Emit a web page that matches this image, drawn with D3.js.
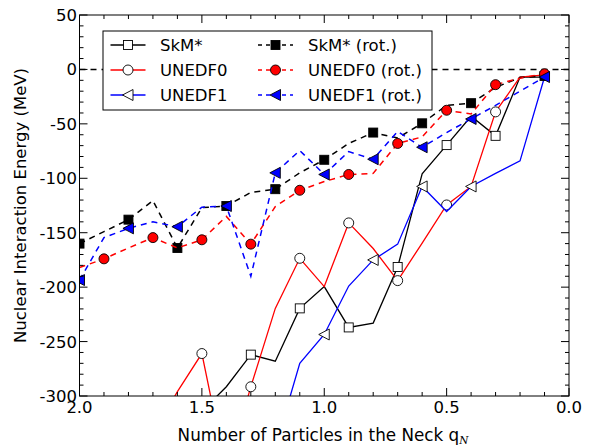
<!DOCTYPE html>
<meta charset="utf-8">
<style>
body { margin: 0; background: #fff; }
text { font-family: "DejaVu Sans"; fill: #000; }
</style>
<body>
<svg id="chart" width="592" height="447"></svg>
<script src="https://d3js.org/d3.v7.min.js"></script>
<script>

// number of particles in the neck, one value per curve point
var qN = [2.0, 1.9, 1.8, 1.7, 1.6, 1.5, 1.4, 1.3, 1.2, 1.1, 1.0, 0.9, 0.8, 0.7, 0.6, 0.5, 0.4, 0.3, 0.2, 0.1];

// interaction energies (MeV), null = not computed
var skmStar     = [null, null, null, null, null, -314, -291.5, -262, -268, -219.5, -199.5, -237, -233, -181.5, -96, -69.5, -43, -61, -7, -7];
var unedf0      = [null, null, null, -335, -296, -261, -370, -291.5, -219.5, -173.5, -199.5, -141, -164.5, -194, -159.5, -124.5, -107.5, -39, -7, -5];
var unedf1      = [null, null, null, null, null, null, null, null, -347, -270, -243.5, -199, -175, -160.5, -107.5, -130.5, -107.5, -95.5, -84, -7];
var skmStarRot  = [-160, -149, -138, -120.5, -164, -127, -125.5, -113, -110, -95, -83, -68, -58, -63, -49.5, -33, -31, -16.5, -7.5, -6];
var unedf0Rot   = [-182, -174, -164, -154.5, -164, -156.5, -135, -160.5, -126, -111, -103, -96.5, -95.5, -68, -62, -37.5, -41, -14, -8, -4];
var unedf1Rot   = [-193.5, -154.5, -146, -140, -144.5, -126.5, -125.5, -190, -95, -74.5, -96.5, -75.5, -82.5, -57, -71.5, -58, -45.5, -33, -20, -7];

// which points carry a marker
var skmStarMarks    = [7, 9, 11, 13, 15, 17];
var unedf0Marks     = [5, 7, 9, 11, 13, 15, 17];
var unedf1Marks     = [10, 12, 14, 16];
var skmStarRotMarks = [0, 2, 4, 6, 8, 10, 12, 14, 16, 19];
var unedf0RotMarks  = [1, 3, 5, 7, 9, 11, 13, 15, 17, 19];
var unedf1RotMarks  = [0, 2, 4, 6, 8, 10, 12, 14, 16, 19];

var xTicks = [2.0, 1.5, 1.0, 0.5, 0.0];
var yTicks = [50, 0, -50, -100, -150, -200, -250, -300];

var series = [
  {name: "SkM*",          y: skmStar,    marks: skmStarMarks,    color: "#000", dash: null, shape: "square",   fill: "#fff"},
  {name: "UNEDF0",        y: unedf0,     marks: unedf0Marks,     color: "#f00", dash: null, shape: "circle",   fill: "#fff"},
  {name: "UNEDF1",        y: unedf1,     marks: unedf1Marks,     color: "#00f", dash: null, shape: "triangle", fill: "#fff"},
  {name: "SkM* (rot.)",   y: skmStarRot, marks: skmStarRotMarks, color: "#000", dash: "6,5", shape: "square",   fill: "#000"},
  {name: "UNEDF0 (rot.)", y: unedf0Rot,  marks: unedf0RotMarks,  color: "#f00", dash: "6,5", shape: "circle",   fill: "#f00"},
  {name: "UNEDF1 (rot.)", y: unedf1Rot,  marks: unedf1RotMarks,  color: "#00f", dash: "6,5", shape: "triangle", fill: "#00f"}
];

var svg = d3.select("#chart"),
    pLeft = 79.5, pRight = 569, pTop = 15, pBottom = 396;

var x = d3.scaleLinear().domain([2.0, 0.0]).range([pLeft, pRight]);
var y = d3.scaleLinear().domain([-300, 50]).range([pBottom, pTop]);

svg.append("defs").append("clipPath").attr("id", "plotclip")
  .append("rect")
    .attr("x", pLeft).attr("y", pTop)
    .attr("width", pRight - pLeft).attr("height", pBottom - pTop);

var plot = svg.append("g").attr("clip-path", "url(#plotclip)");

// zero reference line
plot.append("line")
    .attr("x1", x(2.0)).attr("x2", x(0.0))
    .attr("y1", y(0)).attr("y2", y(0))
    .attr("stroke", "#000")
    .attr("stroke-width", 1.5)
    .attr("stroke-dasharray", "6,5");

function marker(sel, shape, fill) {
  var m;
  if (shape == "square") {
    m = sel.append("rect").attr("x", -4.5).attr("y", -4.5).attr("width", 9).attr("height", 9);
  } else if (shape == "circle") {
    m = sel.append("circle").attr("r", 5);
  } else {
    m = sel.append("path").attr("d", "M-5.5,0L5,-5.5L5,5.5Z");
  }
  m.attr("fill", fill)
   .attr("stroke", "#000")
   .attr("stroke-width", 0.9);
}

var line = d3.line()
    .defined(function(d) { return d[1] !== null; })
    .x(function(d) { return x(d[0]); })
    .y(function(d) { return y(d[1]); });

series.forEach(function(s) {
  var pts = qN.map(function(q, i) { return [q, s.y[i]]; });
  plot.append("path")
      .datum(pts)
      .attr("fill", "none")
      .attr("stroke", s.color)
      .attr("stroke-width", s.dash ? 1.5 : 1.3)
      .attr("stroke-dasharray", s.dash)
      .attr("d", line);
  s.marks.forEach(function(i) {
    var g = plot.append("g")
        .attr("transform", "translate(" + x(qN[i]) + "," + y(s.y[i]) + ")");
    marker(g, s.shape, s.fill);
  });
});

// axes: ticks point inward on all four sides
var frame = svg.append("g");
frame.append("rect")
    .attr("x", pLeft).attr("y", pTop)
    .attr("width", pRight - pLeft).attr("height", pBottom - pTop)
    .attr("fill", "none").attr("stroke", "#000").attr("stroke-width", 1);

var xMinor = d3.range(0, 21).map(function(i) { return i / 10; });
var yMinor = d3.range(-300, 51, 10);

xMinor.forEach(function(v) {
  var major = Math.abs(v * 2 - Math.round(v * 2)) < 1e-6;
  var len = major ? 8 : 4;
  frame.append("line").attr("x1", x(v)).attr("x2", x(v)).attr("y1", pBottom).attr("y2", pBottom - len).attr("stroke", "#000");
  frame.append("line").attr("x1", x(v)).attr("x2", x(v)).attr("y1", pTop).attr("y2", pTop + len).attr("stroke", "#000");
});
yMinor.forEach(function(v) {
  var len = v % 50 == 0 ? 8 : 4;
  frame.append("line").attr("y1", y(v)).attr("y2", y(v)).attr("x1", pLeft).attr("x2", pLeft + len).attr("stroke", "#000");
  frame.append("line").attr("y1", y(v)).attr("y2", y(v)).attr("x1", pRight).attr("x2", pRight - len).attr("stroke", "#000");
});

frame.selectAll(".xt").data(xTicks).enter().append("text")
    .attr("x", function(d) { return x(d); })
    .attr("y", 413)
    .attr("text-anchor", "middle")
    .style("font-size", "16.5px")
    .text(function(d) { return d.toFixed(1); });

frame.selectAll(".yt").data(yTicks).enter().append("text")
    .attr("x", 77)
    .attr("y", function(d) { return y(d) + 6; })
    .attr("text-anchor", "end")
    .style("font-size", "16.5px")
    .text(function(d) { return d < 0 ? "-" + Math.abs(d) : d; });

var xl = svg.append("text")
    .attr("x", 323).attr("y", 441)
    .attr("text-anchor", "middle")
    .style("font-size", "16.8px");
xl.append("tspan").text("Number of Particles in the Neck q");
xl.append("tspan").attr("dy", 3).style("font-size", "10.5px").style("font-style", "italic").attr("font-family", "DejaVu Serif").text("N");

svg.append("text")
    .attr("transform", "translate(26," + ((pTop + pBottom) / 2) + ") rotate(-90)")
    .attr("text-anchor", "middle")
    .style("font-size", "16.5px")
    .text("Nuclear Interaction Energy (MeV)");

// legend, two columns
var leg = svg.append("g");
leg.append("rect")
    .attr("x", 103).attr("y", 31).attr("width", 329).attr("height", 79)
    .attr("fill", "#fff").attr("stroke", "#000").attr("stroke-width", 1);

series.forEach(function(s, i) {
  var col = Math.floor(i / 3), row = i % 3;
  var x0 = col ? 258 : 110.5, yy = 45 + row * 25;
  leg.append("line")
      .attr("x1", x0).attr("x2", x0 + 35)
      .attr("y1", yy).attr("y2", yy)
      .attr("stroke", s.color)
      .attr("stroke-width", s.dash ? 1.5 : 1.3)
      .attr("stroke-dasharray", s.dash ? "4,4" : null);
  var g = leg.append("g").attr("transform", "translate(" + (x0 + 17.5) + "," + yy + ")");
  marker(g, s.shape, s.fill);
  leg.append("text")
      .attr("x", col ? 308 : 160)
      .attr("y", yy + 6)
      .style("font-size", "16.5px")
      .text(s.name);
});

</script>
</body>
